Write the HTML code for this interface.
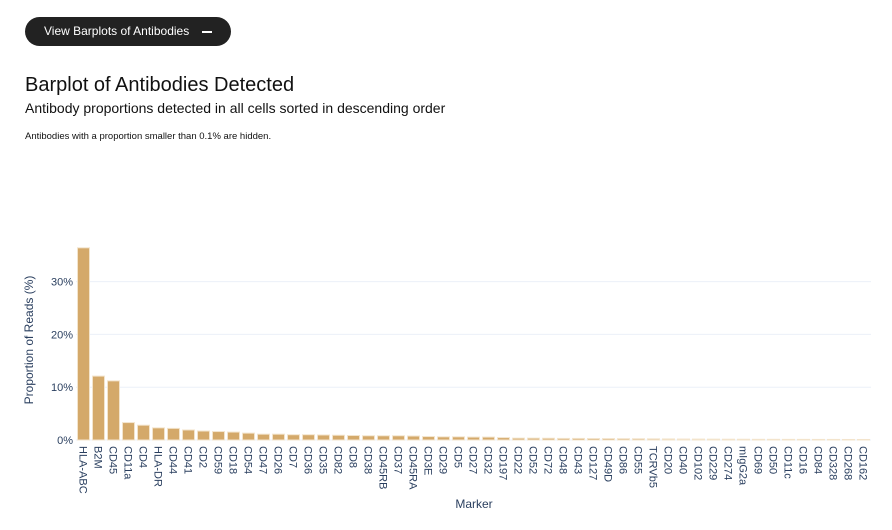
<!DOCTYPE html>
<html><head><meta charset="utf-8"><style>
body{margin:0;width:892px;height:530px;background:#fff;font-family:"Liberation Sans",sans-serif;position:relative;overflow:hidden}
.btn{position:absolute;left:25px;top:17px;width:206px;height:29px;border-radius:15px;background:#222;color:#fff;font-size:12px;line-height:29px;box-sizing:border-box;padding-left:19px}
.btn span{position:absolute;right:19px;top:14px;width:10px;height:1.5px;background:#fff}
h1{position:absolute;left:25px;top:74px;margin:0;font-size:20px;font-weight:normal;color:#111}
.sub{position:absolute;left:25px;top:100px;font-size:14px;color:#111}
.note{position:absolute;left:25px;top:131px;font-size:9.5px;color:#111}
svg{position:absolute;left:0;top:0}
</style></head><body>
<div class="btn">View Barplots of Antibodies<span></span></div>
<h1>Barplot of Antibodies Detected</h1>
<div class="sub">Antibody proportions detected in all cells sorted in descending order</div>
<div class="note">Antibodies with a proportion smaller than 0.1% are hidden.</div>
<svg id="c" width="892" height="530"></svg>
<script>
const categories=["HLA-ABC","B2M","CD45","CD11a","CD4","HLA-DR","CD44","CD41","CD2","CD59","CD18","CD54","CD47","CD26","CD7","CD36","CD35","CD82","CD8","CD38","CD45RB","CD37","CD45RA","CD3E","CD29","CD5","CD27","CD32","CD197","CD22","CD52","CD72","CD48","CD43","CD127","CD49D","CD86","CD55","TCRVb5","CD20","CD40","CD102","CD229","CD274","mIgG2a","CD69","CD50","CD11c","CD16","CD84","CD328","CD268","CD162"];
const values=[36.4,12.1,11.2,3.3,2.8,2.3,2.2,1.9,1.7,1.6,1.5,1.3,1.1,1.1,1.0,1.0,0.95,0.9,0.85,0.8,0.8,0.8,0.75,0.65,0.6,0.6,0.55,0.55,0.45,0.35,0.35,0.33,0.3,0.3,0.28,0.27,0.25,0.24,0.22,0.2,0.18,0.17,0.16,0.15,0.14,0.13,0.13,0.12,0.12,0.11,0.11,0.1,0.1];
const yTicks=[0,10,20,30];
const NS="http://www.w3.org/2000/svg",svg=document.getElementById('c');
const x0=76,x1=871,yB=440,pxPer=5.28,step=(x1-x0)/categories.length;
const X=i=>x0+step*i, Y=v=>yB-v*pxPer;
function mk(t,a){const e=document.createElementNS(NS,t);for(const k in a)e.setAttribute(k,a[k]);svg.appendChild(e);return e;}
yTicks.forEach(t=>{
 const g=mk('line',{x1:x0,x2:x1,y1:Y(t),y2:Y(t),stroke:'#ebf0f8','stroke-width':1});
 
 
 const l=mk('text',{x:x0-3,y:Y(t)+4,'text-anchor':'end','font-size':11,fill:'#2a3f5f'});
 l.textContent=t+'%';
 
 
});
categories.forEach((c,i)=>{
 const v=values[i];
 const b=mk('rect',{x:X(i)+1.5,y:Y(v),width:step-3,height:v*pxPer,fill:'#d4a96a',stroke:'#f3e4cc','stroke-width':1});
 
 
 const cx=X(i)+step/2;
 const t=mk('text',{x:0,y:0,transform:`translate(${cx-4},${yB+6}) rotate(90)`,'font-size':11,fill:'#2a3f5f'});
 t.textContent=c;
 
 
});
const yt=mk('text',{x:0,y:0,transform:'translate(33,340) rotate(-90)','text-anchor':'middle','font-size':12,fill:'#2a3f5f'});
yt.textContent='Proportion of Reads (%)';


const xt=mk('text',{x:474,y:508,'text-anchor':'middle','font-size':12,fill:'#2a3f5f'});
xt.textContent='Marker';


</script>
</body></html>
